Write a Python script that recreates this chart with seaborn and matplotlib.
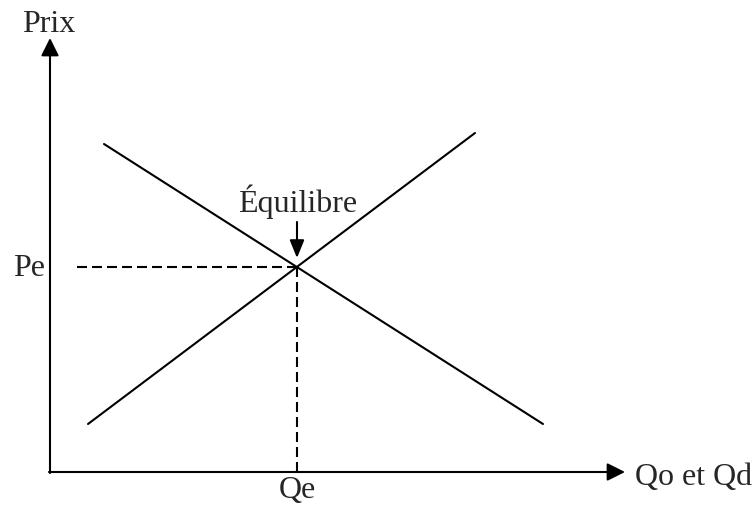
import matplotlib
matplotlib.use("Agg")
import matplotlib.pyplot as plt
import seaborn as sns
import pandas as pd

# supply / demand curves (quantity, price) - units are arbitrary
q_supply = [38, 425]
p_supply = [48, 339]
q_demand = [54, 493]
p_demand = [328, 48]
q_eq = 247
p_eq = 205
x_axis_end = 575
y_axis_end = 434

label_y = "Prix"
label_x = "Qo et Qd"
label_pe = "Pe"
label_qe = "Qe"
label_eq = "Équilibre"

sns.set_style("white")
plt.rcParams['font.family'] = ['Liberation Serif', 'DejaVu Serif']

fig = plt.figure(figsize=(7.53, 5.07), dpi=100)
ax = fig.add_axes([0, 0, 1, 1])

df = pd.concat([
    pd.DataFrame({'q': q_supply, 'p': p_supply, 'courbe': 'Offre'}),
    pd.DataFrame({'q': q_demand, 'p': p_demand, 'courbe': 'Demande'}),
])
sns.lineplot(data=df, x='q', y='p', units='courbe', estimator=None, color='black',
             lw=1.5, ax=ax, legend=False, sort=False)

# dashed lines to the equilibrium (drawn from the equilibrium point outwards)
ax.plot([q_eq, 22], [p_eq, p_eq], color='black', lw=1.5, linestyle=(0, (4.8, 2.4)))
ax.plot([q_eq, q_eq], [p_eq, 0], color='black', lw=1.5, linestyle=(0, (4.8, 2.4)))

# axes with arrows
arr = dict(arrowstyle='-|>,head_length=0.54,head_width=0.27', color='black', lw=1.5,
           mutation_scale=20, shrinkA=0, shrinkB=0)
ax.annotate('', xy=(x_axis_end, 0), xytext=(-1, 0), arrowprops=arr)
ax.annotate('', xy=(0, y_axis_end), xytext=(0, -1), arrowprops=arr)

# equilibrium arrow
arr2 = dict(arrowstyle='-|>,head_length=0.54,head_width=0.22', color='black', lw=1.5,
            mutation_scale=20, shrinkA=0, shrinkB=0)
ax.annotate('', xy=(q_eq, p_eq + 9), xytext=(q_eq, p_eq + 45), arrowprops=arr2)

fs = 23
ax.text(-1, 440, label_y, fontsize=fs, ha='center', va='baseline')
ax.text(585, -13, label_x, fontsize=fs, ha='left', va='baseline')
ax.text(-5, 196, label_pe, fontsize=fs, ha='right', va='baseline')
ax.text(q_eq, -26, label_qe, fontsize=fs, ha='center', va='baseline')
ax.text(q_eq + 1, 260, label_eq, fontsize=fs, ha='center', va='baseline')

ax.set_xlim(-50, 703)
ax.set_ylim(-35, 472)
ax.axis('off')

plt.savefig('out.png', dpi=100)
